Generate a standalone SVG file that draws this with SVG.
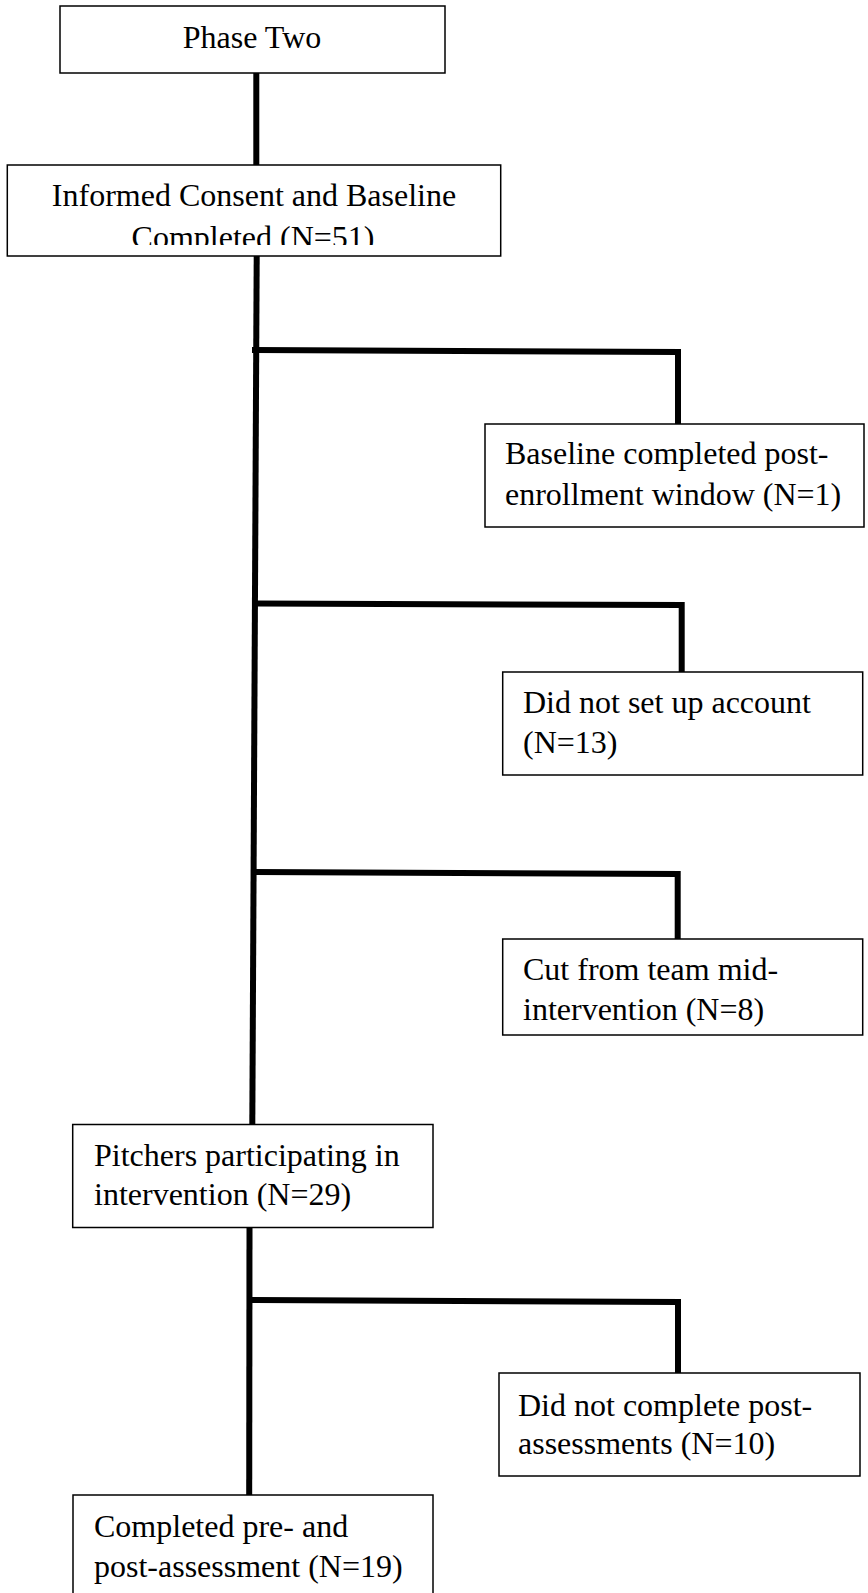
<svg xmlns="http://www.w3.org/2000/svg" width="868" height="1593" viewBox="0 0 868 1593">
<style>
.box{fill:#fff;stroke:#000;stroke-width:1.5}
.t{font-family:"Liberation Serif","Times New Roman",serif;font-size:32px;fill:#000}
.c{text-anchor:middle}
.conn{stroke:#000;stroke-width:6;fill:none;stroke-linecap:butt;stroke-linejoin:miter}
</style>
<defs>
<clipPath id="clipInf"><rect x="7" y="165" width="494" height="80"/></clipPath>
</defs>
<rect width="868" height="1593" fill="#fff"/>
<g id="connectors">
<line class="conn" x1="256.3" y1="73" x2="256.3" y2="165"/>
<line class="conn" x1="256.7" y1="256" x2="252.3" y2="1125"/>
<line class="conn" x1="249.5" y1="1227" x2="249.2" y2="1495"/>
<polyline class="conn" points="252,350 678,352 678,424"/>
<polyline class="conn" points="256,603.5 681.7,605 681.7,672"/>
<polyline class="conn" points="254,872 677.7,874 677.7,939"/>
<polyline class="conn" points="249,1300 678,1302 678,1373"/>
</g>
<g id="phase-two">
<rect class="box" x="60" y="6" width="385" height="67"/>
<text class="t c" x="252" y="48">Phase Two</text>
</g>
<g id="informed-consent">
<rect class="box" x="7.3" y="165" width="493.4" height="91"/>
<g clip-path="url(#clipInf)">
<text class="t c" x="254" y="206">Informed Consent and Baseline</text>
<text class="t c" x="253" y="248">Completed (N=51)</text>
</g>
</g>
<g id="baseline-post">
<rect class="box" x="485" y="424" width="379" height="103"/>
<text class="t" x="505" y="464">Baseline completed post-</text>
<text class="t" x="505" y="505">enrollment window (N=1)</text>
</g>
<g id="no-account">
<rect class="box" x="502.7" y="672" width="360" height="103"/>
<text class="t" x="523" y="713">Did not set up account</text>
<text class="t" x="523" y="753">(N=13)</text>
</g>
<g id="cut-from-team">
<rect class="box" x="502.7" y="939" width="360" height="96"/>
<text class="t" x="523" y="980">Cut from team mid-</text>
<text class="t" x="523" y="1020">intervention (N=8)</text>
</g>
<g id="pitchers">
<rect class="box" x="72.7" y="1124.5" width="360.3" height="103"/>
<text class="t" x="94" y="1166">Pitchers participating in</text>
<text class="t" x="94" y="1205">intervention (N=29)</text>
</g>
<g id="no-post">
<rect class="box" x="499" y="1373" width="361" height="103"/>
<text class="t" x="518" y="1416">Did not complete post-</text>
<text class="t" x="518" y="1454">assessments (N=10)</text>
</g>
<g id="completed">
<rect class="box" x="73" y="1495" width="360" height="110"/>
<text class="t" x="94" y="1537">Completed pre- and</text>
<text class="t" x="94" y="1577">post-assessment (N=19)</text>
</g>
</svg>
